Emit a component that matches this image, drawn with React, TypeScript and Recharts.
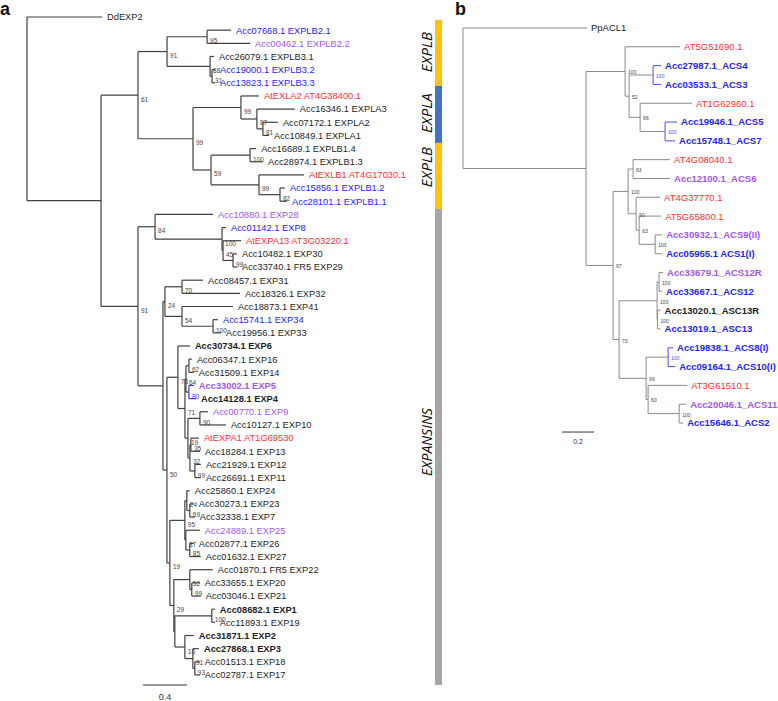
import React from 'react';
import { ScatterChart, Scatter, XAxis, YAxis, ReferenceLine, ReferenceArea } from 'recharts';

// ---------------- DATA ----------------
// Panel a: leaf names (top to bottom), leaf styles (k/b/p/r colour, uppercase = bold)
const leavesA = [
  'DdEXP2', 'Acc07668.1 EXPLB2.1', 'Acc00462.1 EXPLB2.2', 'Acc26079.1 EXPLB3.1', 'Acc19000.1 EXPLB3.2',
  'Acc13823.1 EXPLB3.3', 'AtEXLA2 AT4G38400.1', 'Acc16346.1 EXPLA3', 'Acc07172.1 EXPLA2', 'Acc10849.1 EXPLA1',
  'Acc16689.1 EXPLB1.4', 'Acc28974.1 EXPLB1.3', 'AtEXLB1 AT4G17030.1', 'Acc15856.1 EXPLB1.2', 'Acc28101.1 EXPLB1.1',
  'Acc10880.1 EXP28', 'Acc01142.1 EXP8', 'AtEXPA13 AT3G03220.1', 'Acc10482.1 EXP30', 'Acc33740.1 FR5 EXP29',
  'Acc08457.1 EXP31', 'Acc18326.1 EXP32', 'Acc18873.1 EXP41', 'Acc15741.1 EXP34', 'Acc19956.1 EXP33',
  'Acc30734.1 EXP6', 'Acc06347.1 EXP16', 'Acc31509.1 EXP14', 'Acc33002.1 EXP5', 'Acc14128.1 EXP4',
  'Acc00770.1 EXP9', 'Acc10127.1 EXP10', 'AtEXPA1 AT1G69530', 'Acc18284.1 EXP13', 'Acc21929.1 EXP12',
  'Acc26691.1 EXP11', 'Acc25860.1 EXP24', 'Acc30273.1 EXP23', 'Acc32338.1 EXP7', 'Acc24889.1 EXP25',
  'Acc02877.1 EXP26', 'Acc01632.1 EXP27', 'Acc01870.1 FR5 EXP22', 'Acc33655.1 EXP20', 'Acc03046.1 EXP21',
  'Acc08682.1 EXP1', 'Acc11893.1 EXP19', 'Acc31871.1 EXP2', 'Acc27868.1 EXP3', 'Acc01513.1 EXP18',
  'Acc02787.1 EXP17',
];
const stylesA = [
  'k', 'b', 'p', 'k', 'b', 'b', 'r', 'k', 'k', 'k',
  'k', 'k', 'r', 'b', 'b', 'p', 'b', 'r', 'k', 'k',
  'k', 'k', 'k', 'b', 'k', 'K', 'k', 'k', 'P', 'K',
  'p', 'k', 'r', 'k', 'k', 'k', 'k', 'k', 'k', 'p',
  'k', 'k', 'k', 'k', 'k', 'K', 'k', 'K', 'K', 'k',
  'k',
];
// Newick pieces (leaf = index into leavesA, internal label = bootstrap, suffix b = blue clade)
const cladeExplA =
  '(((1:0.218,2:0.391)95:0.364,(3:0.036,(4:0.027,5:0.027)31:0.018)88:0.391)91:0.264,' +
  '((6:0.164,(7:0.345,(8:0.136,9:0.055)81:0.055)87:0.145)99:0.436,' +
  '((10:0.055,11:0.118)100:0.355,(12:0.409,(13:0.045,14:0.064)82:0.191)99:0.436)59:0.164)99:0.5)61:0.336';
const cladeExpC =
  '(15:0.527,(16:0.036,(17:0.164,(18:0.036,19:0.036)99:0.091)45:0.009)100:0.609)84:0.155';
const cladeExpL =
  '((20:0.191,21:0.527)70:0.155,(22:0.464,(23:0.045,24:0.073)100:0.282)54:0.155)24:0.018';
const cladeExpN =
  '(25:0.109,(((26:0.027,27:0.045)62:0.027,(28:0.045,29:0.064)80b:0.027)64:0.009,' +
  '((30:0.073,31:0.236)90:0.109,((32:0.073,33:0.082)35:0.009,(34:0.055,35:0.055)99:0.045)32:0.018)19:0.027)71:0.064)73:0.1';
const cladeExpU =
  '(((36:0.027,(37:0.036,38:0.045)69:0.027)24:0.018,(39:0.127,(40:0.036,41:0.1)85:0.036)37:0.009)95:0.136,' +
  '((42:0.209,(43:0.073,44:0.082)99:0.018)52:0.145,((45:0.027,46:0.027)100:0.336,' +
  '(47:0.082,(48:0.055,(49:0.045,50:0.045)93:0.018)91:0.073)16:0.091):0.009)29:0.036)19:0.027';
const treeA =
  '(0:0.682,(' + cladeExplA + ',(' + cladeExpC + ',(' + cladeExpL + ',(' + cladeExpN + ',' + cladeExpU +
  ')50:0.036):0.227)91:0.336):0.673)';

// Panel a: coloured clade bands (leaf-index units)
const bandStart = [0.23, 5.24, 9.57, 14.59];
const bandEnd = [5.24, 9.57, 14.59, 50.76];
const bandColor = ['#FFC20E', '#4472C4', '#FFC20E', '#A6A6A6'];
const bandLabel = ['EXPLB', 'EXPLA', 'EXPLB', 'EXPANSINS'];
const bandLabelAt = [2.66, 7.3, 11.4, 32.3];

// Panel b
const leavesB = [
  'PpACL1', 'AT5G51690.1', 'Acc27987.1_ACS4', 'Acc03533.1_ACS3', 'AT1G62960.1', 'Acc19946.1_ACS5',
  'Acc15748.1_ACS7', 'AT4G08040.1', 'Acc12100.1_ACS6', 'AT4G37770.1', 'AT5G65800.1',
  'Acc30932.1_ACS9(II)', 'Acc05955.1 ACS1(I)', 'Acc33679.1_ACS12R', 'Acc33667.1_ACS12', 'Acc13020.1_ASC13R',
  'Acc13019.1_ASC13', 'Acc19838.1_ACS8(I)', 'Acc09164.1_ACS10(I)', 'AT3G61510.1', 'Acc20046.1_ACS11',
  'Acc15646.1_ACS2',
];
const stylesB = [
  'k', 'r', 'B', 'B', 'r', 'B', 'B', 'r', 'P', 'r', 'r',
  'P', 'B', 'P', 'B', 'K', 'B', 'B', 'B', 'r', 'P', 'B',
];
const treeB =
  '(0:0.775,((1:0.344,((2:0.05,3:0.05)100b:0.15,(4:0.325,(5:0.075,6:0.0625)100b:0.156)96:0.069)52:0.025)100:0.244,' +
  '(((7:0.231,8:0.231)63:0.031,(9:0.15,(10:0.1375,(11:0.044,12:0.044)100:0.1)63:0.019)90:0.05)100:0.094,' +
  '(((13:0.025,14:0.019)100:0.0125,(15:0.019,16:0.019)100:0.003)100:0.2375,' +
  '((17:0.031,18:0.044)100b:0.1375,(19:0.244,(20:0.044,21:0.025)100:0.194)60:0.0125)99:0.169)73:0.0375)97:0.169):0.769)';

// Scale bars: [start, length, y, labelY, label]
const scaleBarA = [1.0545, 0.4, 50.76, 51.67, '0.4'];
const scaleBarB = [0.619, 0.2, 21.48, 21.96, '0.2'];

// ---------------- TREE HELPERS ----------------
type TNode = { children: TNode[]; len: number; label: string; x: number; y: number };

function parseNewick(src: string): TNode {
  const s = src.replace(/\s+/g, '');
  let i = 0;
  const node = (): TNode => {
    const n: TNode = { children: [], len: 0, label: '', x: 0, y: 0 };
    if (s[i] === '(') {
      i++;
      n.children.push(node());
      while (s[i] === ',') {
        i++;
        n.children.push(node());
      }
      i++;
    }
    let lab = '';
    while (i < s.length && !',():;'.includes(s[i])) lab += s[i++];
    n.label = lab;
    if (s[i] === ':') {
      i++;
      let num = '';
      while (i < s.length && !',();'.includes(s[i])) num += s[i++];
      n.len = parseFloat(num);
    }
    return n;
  };
  return node();
}

const COLORS: Record<string, string> = { k: '#1e1e1e', b: '#2424f5', p: '#a156f2', r: '#ff3030' };

function layoutTree(newick: string, names: string[], styles: string[], lineColor: string, blue: string) {
  const root = parseNewick(newick);
  const segs: { x1: number; y1: number; x2: number; y2: number; c: string }[] = [];
  const leaves: any[] = [];
  const supports: any[] = [];
  const walk = (n: TNode, x: number) => {
    n.x = x;
    if (n.children.length === 0) {
      const idx = parseInt(n.label, 10);
      n.y = idx;
      const st = styles[idx];
      leaves.push({ x, y: idx, name: names[idx], color: COLORS[st.toLowerCase()], bold: st !== st.toLowerCase() });
      return;
    }
    const isBlue = n.label.endsWith('b');
    n.children.forEach((c) => walk(c, x + c.len));
    const first = n.children[0];
    const last = n.children[n.children.length - 1];
    n.y = (first.y + last.y) / 2;
    const c = isBlue ? blue : lineColor;
    segs.push({ x1: x, y1: first.y, x2: x, y2: last.y, c });
    n.children.forEach((ch) => segs.push({ x1: x, y1: ch.y, x2: ch.x, y2: ch.y, c }));
    const sup = isBlue ? n.label.slice(0, -1) : n.label;
    if (sup) supports.push({ x, y: n.y, text: sup, color: isBlue ? blue : '#444' });
  };
  walk(root, 0);
  return { segs, leaves, supports };
}

const FONT = '"Liberation Sans", Arial, sans-serif';

function TreePanel(props: any) {
  const { cfg, newick, names, styles, bar, children } = props;
  const { segs, leaves, supports } = layoutTree(newick, names, styles, cfg.lineColor, cfg.blue);
  const leafShape = (p: any) => (
    <text
      x={p.cx + cfg.gap}
      y={p.cy}
      dy="0.36em"
      fontSize={cfg.fontSize}
      fontFamily={FONT}
      fill={p.payload.color}
      fontWeight={p.payload.bold ? 'bold' : 'normal'}
    >
      {p.payload.name}
    </text>
  );
  const supShape = (p: any) => (
    <text x={p.cx + cfg.supDx} y={p.cy + cfg.supDy} fontSize={cfg.supFont} fontFamily={FONT} fill={p.payload.color}>
      {p.payload.text}
    </text>
  );
  const barLabel = [{ x: (bar[0] as number) + (bar[1] as number) / 2, y: bar[3], text: bar[4] }];
  const barShape = (p: any) => (
    <text x={p.cx} y={p.cy} dy="0.36em" textAnchor="middle" fontSize={cfg.barFont} fontFamily={FONT} fill="#333">
      {p.payload.text}
    </text>
  );
  return (
    <div style={{ position: 'absolute', left: cfg.left, top: 0 }}>
      <ScatterChart width={cfg.width} height={cfg.height} margin={{ top: 0, right: 0, bottom: 0, left: 0 }}>
        <XAxis type="number" dataKey="x" domain={cfg.xDomain} hide allowDataOverflow />
        <YAxis type="number" dataKey="y" domain={cfg.yDomain} reversed hide allowDataOverflow width={0} />
        {children}
        {segs.map((s, i) => (
          <ReferenceLine
            key={'s' + i}
            segment={[{ x: s.x1, y: s.y1 }, { x: s.x2, y: s.y2 }]}
            stroke={s.c}
            strokeWidth={cfg.lineWidth}
            ifOverflow="visible"
          />
        ))}
        <ReferenceLine
          segment={[{ x: bar[0], y: bar[2] }, { x: (bar[0] as number) + (bar[1] as number), y: bar[2] }]}
          stroke="#333"
          strokeWidth={1}
          ifOverflow="visible"
        />
        <Scatter data={leaves} shape={leafShape} isAnimationActive={false} />
        <Scatter data={supports} shape={supShape} isAnimationActive={false} />
        <Scatter data={barLabel} shape={barShape} isAnimationActive={false} />
      </ScatterChart>
    </div>
  );
}

const cfgA = {
  left: 0, width: 450, height: 701,
  xDomain: [-27 / 110, 423 / 110], yDomain: [-17 / 13.16, 684 / 13.16],
  lineColor: '#404040', blue: '#3a3aff', lineWidth: 1.2,
  fontSize: 9.3, gap: 5, supFont: 6.5, supDx: 3, supDy: 6.5, barFont: 9,
};
const cfgB = {
  left: 450, width: 328, height: 701,
  xDomain: [-13 / 160, 315 / 160], yDomain: [-28 / 18.81, 673 / 18.81],
  lineColor: '#8a8a8a', blue: '#4a4aff', lineWidth: 1,
  fontSize: 9.5, gap: 4, supFont: 5, supDx: 3, supDy: 3, barFont: 7,
};

const BAND_X = [3.709, 3.773];
const BAND_LABEL_X = 3.636;

export default function App() {
  const bandLabels = bandLabel.map((t, i) => ({ x: BAND_LABEL_X, y: bandLabelAt[i], text: t }));
  const bandShape = (p: any) => (
    <text
      x={p.cx}
      y={p.cy}
      dy="0.36em"
      textAnchor="middle"
      transform={`rotate(-90 ${p.cx} ${p.cy})`}
      fontSize={p.payload.text.length > 5 ? 14 : 15}
      fontStyle="italic"
      fontFamily='"Open Sans", "Liberation Sans", sans-serif'
      fill="#111"
    >
      {p.payload.text}
    </text>
  );
  return (
    <div style={{ position: 'absolute', left: 0, top: 0, width: 778, height: 701, background: '#fff' }}>
      <TreePanel cfg={cfgA} newick={treeA} names={leavesA} styles={stylesA} bar={scaleBarA}>
        {bandStart.map((s, i) => (
          <ReferenceArea
            key={'band' + i}
            x1={BAND_X[0]}
            x2={BAND_X[1]}
            y1={s}
            y2={bandEnd[i]}
            fill={bandColor[i]}
            fillOpacity={1}
            stroke="none"
            ifOverflow="visible"
          />
        ))}
        <Scatter data={bandLabels} shape={bandShape} isAnimationActive={false} />
      </TreePanel>
      <TreePanel cfg={cfgB} newick={treeB} names={leavesB} styles={stylesB} bar={scaleBarB} />
      <div style={{ position: 'absolute', left: 0, top: -1, font: `bold 18px ${FONT}`, color: '#111' }}>a</div>
      <div style={{ position: 'absolute', left: 455, top: -1, font: `bold 18px ${FONT}`, color: '#111' }}>b</div>
    </div>
  );
}
